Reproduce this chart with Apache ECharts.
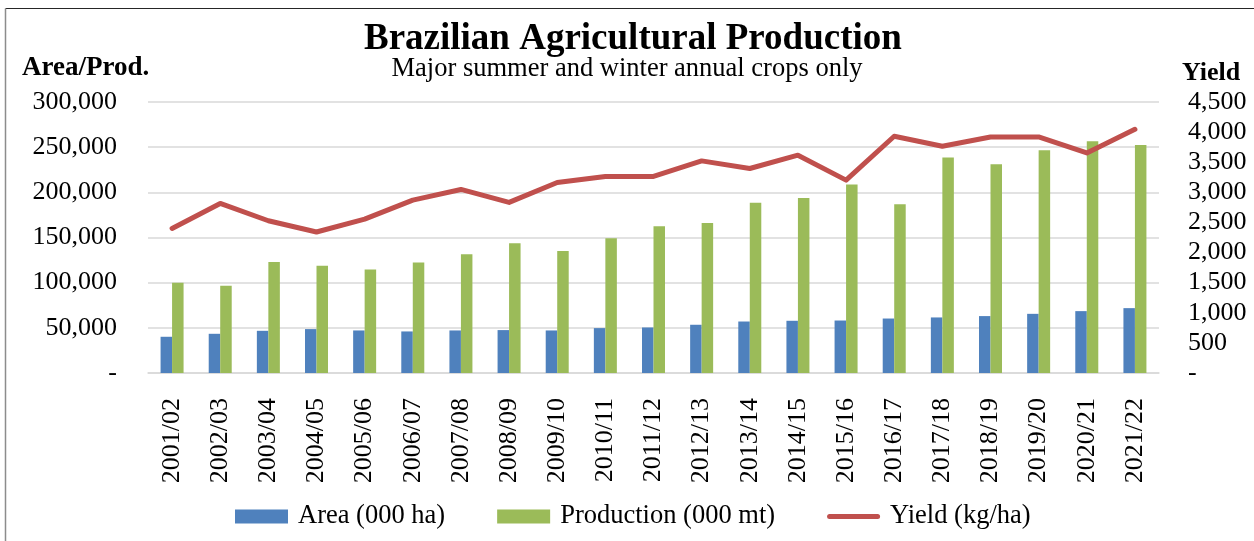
<!DOCTYPE html>
<html>
<head>
<meta charset="utf-8">
<title>Brazilian Agricultural Production</title>
<script src="https://cdn.jsdelivr.net/npm/echarts@6/dist/echarts.min.js"></script>
<style>
  html, body { margin: 0; padding: 0; background: #fff; }
  #chart { width: 1254px; height: 541px; }
</style>
</head>
<body>
<div id="chart"></div>
<script>
  // marketing years
  const seasons = ['2001/02', '2002/03', '2003/04', '2004/05', '2005/06', '2006/07', '2007/08',
    '2008/09', '2009/10', '2010/11', '2011/12', '2012/13', '2013/14', '2014/15', '2015/16',
    '2016/17', '2017/18', '2018/19', '2019/20', '2020/21', '2021/22']
  // 000 ha
  const area = [40100, 43400, 46700, 48600, 47100, 46000, 47100, 47500, 47100, 49700, 50400,
    53400, 57000, 57800, 58100, 60300, 61500, 63000, 65500, 68500, 71800]
  // 000 mt
  const production = [99800, 96500, 123000, 118600, 114500, 122200, 131500, 143600, 135100, 149200,
    162400, 166100, 188500, 193700, 208800, 186700, 238600, 231200, 246700, 256600, 252500]
  // kg/ha
  const yieldKg = [2400, 2816, 2528, 2341, 2556, 2871, 3048, 2833, 3164, 3264, 3264, 3522, 3396,
    3617, 3203, 3931, 3766, 3920, 3920, 3655, 4047]

  const FONT = "'Liberation Serif', 'Times New Roman', serif"

  const fmt = (v) => v === 0 ? '-' : v.toLocaleString('en-US')

  const myChart = echarts.init(document.getElementById('chart'))

  const option = {
    animation: false,
    textStyle: { fontFamily: FONT, color: '#000' },
    title: [
      {
        text: 'Brazilian Agricultural Production',
        left: 364,
        top: 21,
        padding: 0,
        textStyle: { fontFamily: FONT, fontSize: 37, fontWeight: 'bold', color: '#000' }
      },
      {
        text: 'Major summer and winter annual crops only',
        left: 'center',
        top: 56,
        padding: 0,
        textStyle: { fontFamily: FONT, fontSize: 26.5, fontWeight: 'normal', color: '#000' }
      },
      {
        text: 'Area/Prod.',
        left: 22,
        top: 55,
        padding: 0,
        textStyle: { fontFamily: FONT, fontSize: 27, fontWeight: 'bold', color: '#000' }
      },
      {
        text: 'Yield',
        left: 1182,
        top: 60,
        padding: 0,
        textStyle: { fontFamily: FONT, fontSize: 26, fontWeight: 'bold', color: '#000' }
      }
    ],
    graphic: [
      // outer frame (top and left edges visible)
      { type: 'line', shape: { x1: 5.5, y1: 8.5, x2: 1254, y2: 8.5 }, style: { stroke: '#262626', lineWidth: 1.2 } },
      { type: 'line', shape: { x1: 5.5, y1: 8.5, x2: 5.5, y2: 541 }, style: { stroke: '#8c8c8c', lineWidth: 1.5 } }
    ],
    legend: {
      left: 235,
      top: 503,
      itemWidth: 53,
      itemHeight: 14,
      itemGap: 52,
      padding: 0,
      textStyle: { fontFamily: FONT, fontSize: 26.5, color: '#000', padding: [0, 0, 0, 5] },
      data: [
        { name: 'Area (000 ha)', icon: 'rect' },
        { name: 'Production (000 mt)', icon: 'rect' },
        { name: 'Yield (kg/ha)', icon: 'path://M2.5,0 L50.5,0 A2.5,2.5 0 0 1 50.5,5 L2.5,5 A2.5,2.5 0 0 1 2.5,0 Z' }
      ]
    },
    grid: {
      left: 148,
      right: 95,
      top: 102,
      bottom: 168
    },
    xAxis: [{
      type: 'category',
      data: seasons,
      axisLine: { show: true, lineStyle: { color: '#d9d9d9', width: 1.5 } },
      axisTick: { show: false },
      axisLabel: {
        rotate: 90,
        margin: 25,
        interval: 0,
        fontFamily: FONT,
        fontSize: 26,
        color: '#000'
      }
    }],
    yAxis: [
      {
        type: 'value',
        min: 0,
        max: 300000,
        interval: 50000,
        axisLine: { show: false },
        axisTick: { show: false },
        splitLine: { show: true, lineStyle: { color: '#d9d9d9', width: 1.5 } },
        axisLabel: {
          margin: 31,
          fontFamily: FONT,
          fontSize: 26,
          color: '#000',
          formatter: fmt
        }
      },
      {
        type: 'value',
        min: 0,
        max: 4500,
        interval: 500,
        position: 'right',
        axisLine: { show: false },
        axisTick: { show: false },
        splitLine: { show: false },
        axisLabel: {
          margin: 29,
          fontFamily: FONT,
          fontSize: 26,
          color: '#000',
          formatter: fmt
        }
      }
    ],
    series: [
      {
        name: 'Area (000 ha)',
        type: 'bar',
        yAxisIndex: 0,
        barWidth: 11.5,
        barGap: '0%',
        itemStyle: { color: '#4f81bd' },
        data: area
      },
      {
        name: 'Production (000 mt)',
        type: 'bar',
        yAxisIndex: 0,
        barWidth: 11.5,
        barGap: '0%',
        itemStyle: { color: '#9bbb59' },
        data: production
      },
      {
        name: 'Yield (kg/ha)',
        type: 'line',
        yAxisIndex: 1,
        symbol: 'none',
        z: 5,
        lineStyle: { color: '#c0504d', width: 5, cap: 'round', join: 'round' },
        itemStyle: { color: '#c0504d' },
        data: yieldKg
      }
    ]
  }

  myChart.setOption(option)
</script>
</body>
</html>
